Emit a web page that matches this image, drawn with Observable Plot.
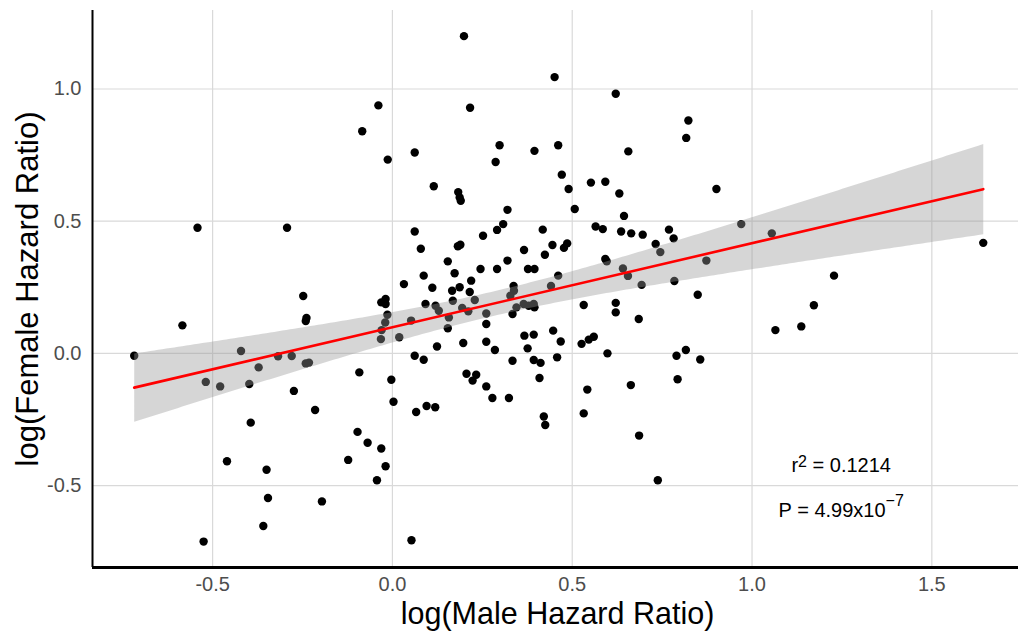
<!DOCTYPE html>
<html>
<head>
<meta charset="utf-8">
<script src="https://cdn.jsdelivr.net/npm/d3@7"></script>
<script src="https://cdn.jsdelivr.net/npm/@observablehq/plot@0.6"></script>
<style>
  html, body { margin: 0; padding: 0; background: #fff; overflow: hidden; }
  #chart svg { display: block; }
</style>
</head>
<body>
<div id="chart"></div>
<script>
// log(Male Hazard Ratio)
const maleLogHR = [
  -0.039,-0.084,-0.013,0.199,0.451,0.621,0.216,0.062,0.298,0.287,
  0.395,0.461,0.471,0.490,0.552,0.592,0.631,0.656,0.115,0.183,
  0.187,0.190,0.823,0.817,0.901,-0.542,-0.293,-0.248,-0.239,-0.241,
  -0.584,-0.718,-0.421,-0.372,-0.318,-0.280,-0.241,-0.232,-0.032,-0.020,
  -0.014,-0.031,-0.019,-0.019,-0.092,-0.003,-0.519,-0.479,-0.398,0.003,
  -0.274,-0.215,-0.394,-0.097,-0.069,-0.031,-0.123,-0.019,-0.043,-0.460,
  -0.350,-0.346,-0.196,-0.359,-0.525,0.066,0.095,0.119,0.206,0.233,
  0.223,0.261,0.278,0.324,0.409,0.421,0.425,0.053,0.542,0.532,
  0.663,0.686,0.738,0.793,0.970,1.055,0.873,1.643,0.849,1.228,
  1.172,1.137,1.065,0.816,0.856,0.320,0.507,0.644,0.308,0.291,
  0.062,0.252,0.418,0.565,0.585,0.636,0.664,0.696,0.769,0.782,
  0.182,0.189,0.079,0.366,0.445,0.477,0.486,0.424,0.154,0.320,
  0.592,0.596,0.732,0.745,0.173,0.245,0.291,0.377,0.395,0.461,
  0.087,0.032,0.219,0.111,0.187,0.166,0.215,0.337,0.338,0.441,
  0.641,0.655,0.693,0.784,-0.030,0.168,0.092,0.120,0.129,0.194,
  0.229,0.211,0.157,0.261,0.052,0.019,0.154,0.261,0.328,0.334,
  0.345,0.365,0.379,0.393,0.395,0.367,0.393,0.447,0.468,0.376,
  0.124,0.197,0.261,0.285,0.062,0.087,0.334,0.393,0.412,0.458,
  0.532,0.621,0.621,0.685,0.526,0.546,0.560,0.598,0.790
];
// log(Female Hazard Ratio)
const femaleLogHR = [
  0.938,0.840,0.733,1.200,1.045,0.982,0.929,0.760,0.787,0.724,
  0.766,0.787,0.676,0.622,0.646,0.649,0.605,0.764,0.632,0.610,
  0.590,0.577,0.881,0.815,0.622,0.475,0.475,0.217,0.134,0.122,
  0.106,-0.009,0.009,-0.053,-0.011,-0.010,-0.038,-0.035,0.054,0.117,
  0.146,0.193,0.206,0.187,-0.072,-0.100,-0.108,-0.125,-0.116,-0.183,
  -0.142,-0.214,-0.262,-0.297,-0.338,-0.360,-0.403,-0.427,-0.480,-0.408,
  -0.440,-0.547,-0.560,-0.653,-0.712,-0.222,-0.199,-0.204,-0.077,-0.081,
  -0.103,-0.125,-0.169,-0.169,-0.093,-0.239,-0.271,-0.707,-0.137,-0.227,
  -0.120,-0.311,-0.480,-0.098,0.489,0.454,0.351,0.418,0.222,0.294,
  0.182,0.102,0.088,0.013,-0.023,0.543,0.546,0.520,0.489,0.467,
  0.461,0.445,0.468,0.480,0.470,0.461,0.454,0.449,0.468,0.435,
  0.405,0.411,0.396,0.391,0.410,0.399,0.416,0.373,0.348,0.351,
  0.357,0.348,0.414,0.383,0.303,0.319,0.319,0.319,0.319,0.294,
  0.294,0.262,0.275,0.248,0.250,0.237,0.232,0.255,0.237,0.255,
  0.321,0.293,0.259,0.274,0.088,0.199,0.187,0.180,0.161,0.172,
  0.202,0.159,0.136,0.151,0.124,0.061,0.095,0.111,0.218,0.149,
  0.174,0.187,0.180,0.187,0.174,0.067,0.071,0.086,0.045,0.019,
  0.026,0.039,0.044,0.013,-0.009,-0.024,-0.028,-0.025,-0.036,-0.015,
  0.183,0.191,0.155,0.130,0.036,0.052,0.063,0.000,-0.009
];
const xTicks = [-0.5, 0.0, 0.5, 1.0, 1.5];
const yTicks = [-0.5, 0.0, 0.5, 1.0];
const xDomain = [-0.834, 1.741];
const yDomain = [-0.81, 1.297];
const xTitle = "log(Male Hazard Ratio)";
const yTitle = "log(Female Hazard Ratio)";
// annotation lines: [base text, superscript, tail]
const statBase = ["r", "P = 4.99x10"];
const statSup = ["2", "\u22127"];
const statTail = [" = 0.1214", ""];
const statX = [1.248, 1.248];
const statY = [-0.425, -0.595];

const points = maleLogHR.map((x, i) => ({x, y: femaleLogHR[i]}));
const supChars = {"2": "\u00B2", "\u22127": "\u207B\u2077"};
const stats = statBase.map((b, i) => ({
  t: b + supChars[statSup[i]] + statTail[i], i, x: statX[i], y: statY[i]
}));
const fmt = d => d.toFixed(1);

const chart = Plot.plot({
  width: 1018,
  height: 634,
  marginLeft: 92,
  marginRight: 0,
  marginTop: 10,
  marginBottom: 67,
  style: {fontFamily: "'Liberation Sans', Arial, sans-serif", background: "#fff", overflow: "hidden"},
  x: {domain: xDomain, ticks: xTicks, tickFormat: fmt, label: null},
  y: {domain: yDomain, ticks: yTicks, tickFormat: fmt, label: null},
  marks: [
    Plot.gridX(xTicks, {stroke: "#d9d9d9", strokeOpacity: 1, strokeWidth: 1.2}),
    Plot.gridY(yTicks, {stroke: "#d9d9d9", strokeOpacity: 1, strokeWidth: 1.2}),
    Plot.axisX(xTicks, {tickSize: 0, tickPadding: 9, tickFormat: fmt, fontSize: 20, fill: "#4d4d4d", label: null}),
    Plot.axisY(yTicks, {tickSize: 0, tickPadding: 11, tickFormat: fmt, fontSize: 20, fill: "#4d4d4d", label: null}),
    Plot.dot(points, {x: "x", y: "y", r: 4.2, fill: "black", stroke: null}),
    Plot.linearRegressionY(points, {x: "x", y: "y", stroke: "red", strokeWidth: 2.6, fill: "#999999", fillOpacity: 0.4}),
    Plot.ruleX([xDomain[0]], {stroke: "black", strokeWidth: 2}),
    Plot.ruleY([yDomain[0]], {stroke: "black", strokeWidth: 2.8}),
    Plot.text(stats, {x: "x", y: "y", text: "t", fontSize: 20, fill: "black"}),
    Plot.text([xTitle], {frameAnchor: "bottom", dx: 2, dy: 56.5, fontSize: 30.5, fill: "black"}),
    Plot.text([yTitle], {frameAnchor: "left", textAnchor: "middle", dx: -64, rotate: -90, fontSize: 31, fill: "black"})
  ]
});

// Render the superscripts of the statistics annotation as raised, smaller text
const supShift = [5, 11.5];
d3.select(chart).selectAll("text").each(function () {
  const txt = this.textContent;
  const i = stats.findIndex(s => s.t === txt);
  if (i < 0) return;
  const el = d3.select(this);
  el.text(null);
  el.append("tspan").text(statBase[i]);
  el.append("tspan").attr("font-size", 16).attr("dy", -supShift[i]).text(statSup[i]);
  if (statTail[i]) el.append("tspan").attr("dy", supShift[i]).text(statTail[i]);
});

document.getElementById("chart").appendChild(chart);
</script>
</body>
</html>
